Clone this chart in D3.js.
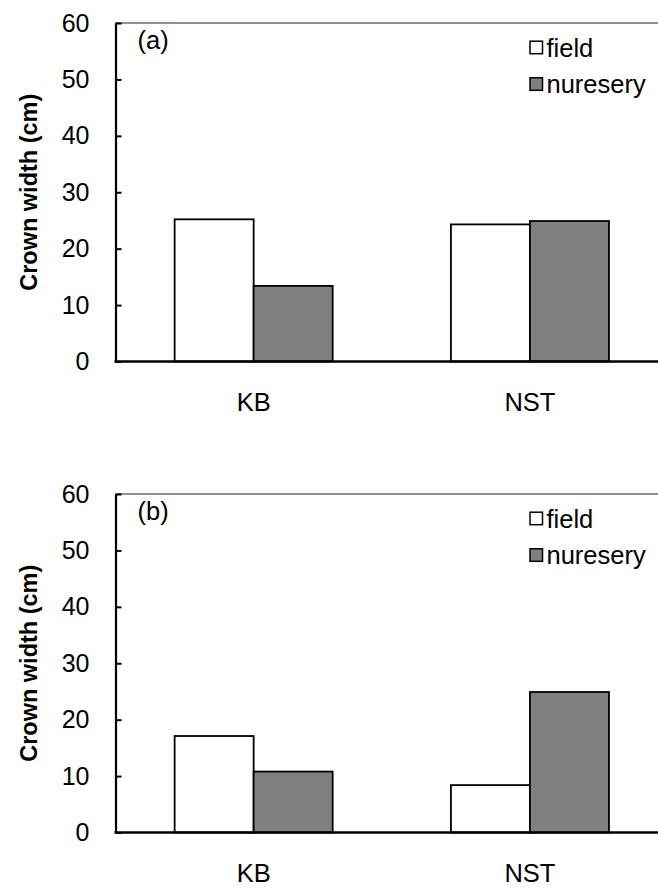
<!DOCTYPE html>
<html>
<head>
<meta charset="utf-8">
<script src="https://cdn.jsdelivr.net/npm/d3@7/dist/d3.min.js"></script>
<style>
  html, body { margin: 0; padding: 0; background: #fff; }
  svg { display: block; font-family: "Liberation Sans", Arial, Helvetica, sans-serif; }
</style>
</head>
<body>
<svg id="chart" width="658" height="889"></svg>
<script>
// Crown width by site and growing origin
const categories = ["KB", "NST"];
const series = ["field", "nuresery"];
const panelLabels = ["(a)", "(b)"];
const fieldA = [25.2, 24.3];
const nurseryA = [13.4, 24.9];
const fieldB = [17.1, 8.4];
const nurseryB = [10.8, 24.9];
const yTicks = [0, 10, 20, 30, 40, 50, 60];
const yTitle = "Crown width (cm)";

const seriesFill = { field: "#ffffff", nuresery: "#808080" };

const panels = [
  { label: panelLabels[0], values: { field: fieldA, nuresery: nurseryA }, top: 23 },
  { label: panelLabels[1], values: { field: fieldB, nuresery: nurseryB }, top: 494 }
];

const svg = d3.select("#chart");
const W = 658;
const axisX = 115.5;
const plotH = 338.5;
const step = 276.3;

const x0 = d3.scaleBand()
  .domain(categories)
  .range([axisX, axisX + step * categories.length])
  .paddingInner(0.428)
  .paddingOuter(0.214);

const x1 = d3.scaleBand()
  .domain(series)
  .range([0, x0.bandwidth()])
  .padding(0);

panels.forEach(p => {
  const bottom = p.top + plotH;
  const y = d3.scaleLinear().domain([0, 60]).range([bottom, p.top]);
  const g = svg.append("g");

  // top frame line
  g.append("line")
    .attr("x1", axisX).attr("x2", W)
    .attr("y1", y(60)).attr("y2", y(60))
    .attr("stroke", "#222").attr("stroke-width", 1.2);

  // bars
  categories.forEach((c, i) => {
    series.forEach(s => {
      const v = p.values[s][i];
      g.append("rect")
        .attr("x", x0(c) + x1(s))
        .attr("y", y(v))
        .attr("width", x1.bandwidth())
        .attr("height", y(0) - y(v))
        .attr("fill", seriesFill[s])
        .attr("stroke", "#000")
        .attr("stroke-width", 1.8);
    });
  });

  // y axis
  const yAxis = d3.axisLeft(y)
    .tickValues(yTicks)
    .tickSizeInner(-6)
    .tickSizeOuter(0)
    .tickPadding(26)
    .tickFormat(d3.format("d"));
  const ya = g.append("g")
    .attr("transform", `translate(${axisX},0)`)
    .call(yAxis);
  ya.select(".domain").attr("stroke", "#000").attr("stroke-width", 2.2);
  ya.selectAll(".tick line").attr("stroke", "#000").attr("stroke-width", 2);
  ya.selectAll(".tick text")
    .attr("font-size", 25)
    .attr("fill", "#000")
    .attr("font-family", "Liberation Sans, Arial, sans-serif");

  // x baseline
  g.append("line")
    .attr("x1", axisX - 1).attr("x2", W)
    .attr("y1", y(0)).attr("y2", y(0))
    .attr("stroke", "#000").attr("stroke-width", 2.4);

  // category labels
  g.selectAll(".cat")
    .data(categories)
    .join("text")
    .attr("x", c => x0(c) + x0.bandwidth() / 2)
    .attr("y", bottom + 49.5)
    .attr("text-anchor", "middle")
    .attr("font-size", 25.5)
    .attr("fill", "#000")
    .text(c => c);

  // panel label
  g.append("text")
    .attr("x", 137.5)
    .attr("y", p.top + 25.5)
    .attr("font-size", 25.5)
    .attr("fill", "#000")
    .text(p.label);

  // legend
  const legendRows = [p.top + 17.7, p.top + 54.3];
  series.forEach((s, i) => {
    g.append("rect")
      .attr("x", 530)
      .attr("y", legendRows[i] + 0.5)
      .attr("width", 12.5)
      .attr("height", 12.5)
      .attr("fill", seriesFill[s])
      .attr("stroke", "#000")
      .attr("stroke-width", 1.5);
    g.append("text")
      .attr("x", 546.5)
      .attr("y", legendRows[i] + 15.8)
      .attr("font-size", 25.5)
      .attr("fill", "#000")
      .text(s);
  });

  // y axis title
  g.append("text")
    .attr("transform", `translate(37,${(p.top + bottom) / 2}) rotate(-90)`)
    .attr("text-anchor", "middle")
    .attr("font-size", 23.5)
    .attr("font-weight", "bold")
    .attr("fill", "#000")
    .text(yTitle);
});
</script>
</body>
</html>
